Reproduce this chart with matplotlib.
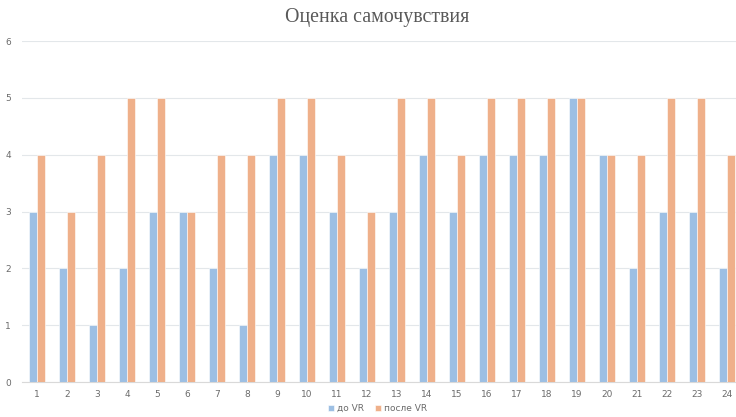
import matplotlib
matplotlib.use("Agg")
import matplotlib.pyplot as plt
import numpy as np

categories = [str(i) for i in range(1, 25)]
before_vr = [3, 2, 1, 2, 3, 3, 2, 1, 4, 4, 3, 2, 3, 4, 3, 4, 4, 4, 5, 4, 2, 3, 3, 2]
after_vr = [4, 3, 4, 5, 5, 3, 4, 4, 5, 5, 4, 3, 5, 5, 4, 5, 5, 5, 5, 4, 4, 5, 5, 4]
series_names = ["до VR", "после VR"]
title = "Оценка самочувствия"

blue = "#9dbfe3"
orange = "#efb08a"
gray = "#6b6b6b"

fig = plt.figure(figsize=(7.36, 4.17), dpi=100)
ax = fig.add_axes([0.0299, 0.0839, 0.978, 0.8177])

x = np.arange(len(categories))
w = 0.27
ax.bar(x - w / 2, before_vr, width=w, color=blue, edgecolor="white", linewidth=0.4,
       label=series_names[0], zorder=3)
ax.bar(x + w / 2, after_vr, width=w, color=orange, edgecolor="white", linewidth=0.4,
       label=series_names[1], zorder=3)

ax.set_xlim(-0.5, len(categories) - 0.5)
ax.set_ylim(0, 6)
ax.set_yticks(range(0, 7))
ax.set_xticks(x)
ax.set_xticklabels(categories)
ax.grid(axis="y", color="#e3e7ea", linewidth=0.8, zorder=0)
for s in ["top", "right", "left"]:
    ax.spines[s].set_visible(False)
ax.spines["bottom"].set_color("#d9d9d9")
ax.tick_params(axis="both", length=0, labelsize=6.5, colors=gray)
ax.tick_params(axis="x", pad=6)
ax.tick_params(axis="y", pad=8)

fig.text(0.513, 0.957, title, ha="center", va="center", fontsize=14.3,
         family="Liberation Serif", color="#595959")

fig.legend(loc="center", bbox_to_anchor=(0.513, 0.02), ncol=2, frameon=False,
           fontsize=6.5, handlelength=0.7, handleheight=0.7, handletextpad=0.3,
           columnspacing=1.2, labelcolor=gray)

fig.savefig("out.png", dpi=100)
